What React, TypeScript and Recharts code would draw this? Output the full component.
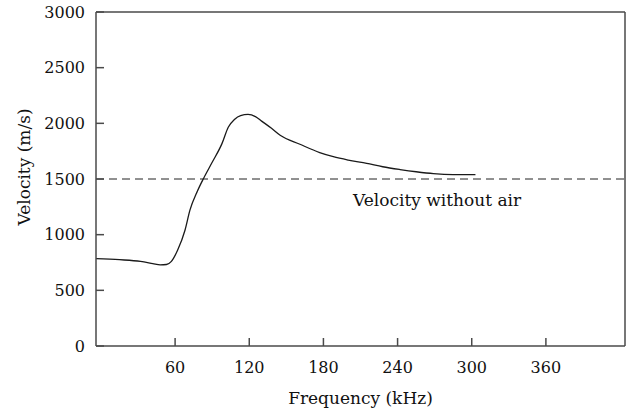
import React from 'react';
import { LineChart, Line, XAxis, YAxis, ReferenceLine, ReferenceDot, Label } from 'recharts';

// curve (kHz, m/s)
const frequency = [-4, 15, 32, 42, 48, 53, 57, 62, 68, 72, 78, 83, 90, 98, 103, 108, 113, 119, 125, 130, 138, 145, 161, 177, 188, 200, 215, 228, 242, 255, 269, 285, 303];
const velocity = [785, 775, 760, 740, 728, 732, 760, 860, 1040, 1220, 1390, 1505, 1650, 1820, 1965, 2035, 2070, 2080, 2060, 2020, 1955, 1893, 1812, 1737, 1700, 1670, 1640, 1610, 1585, 1565, 1548, 1540, 1540];
const xTicks = [60, 120, 180, 240, 300, 360];
const yTicks = [0, 500, 1000, 1500, 2000, 2500, 3000];

const data = frequency.map((f, i) => ({ f, v: velocity[i] }));

const font = 'DejaVu Serif';
const axisColor = '#4a4a4a';
const textStyle = { fontFamily: font };

const YTitle = ({ viewBox }: any) => {
  const x = viewBox.x + 24;
  const y = viewBox.y + viewBox.height / 2 - 12;
  return (
    <text x={x} y={y} transform={`rotate(-90, ${x}, ${y})`} textAnchor="middle" dominantBaseline="central" fill="#111" fontSize={17} fontFamily={font}>
      Velocity (m/s)
    </text>
  );
};

export default function App() {
  return (
    <div style={{ position: 'absolute', left: 0, top: 0, background: '#fff', fontFamily: font }}>
      <LineChart width={631} height={416} data={data} margin={{ top: 12, right: 6, left: 0, bottom: 0 }} style={textStyle}>
        <XAxis
          type="number"
          dataKey="f"
          domain={[-4, 424]}
          ticks={xTicks}
          allowDataOverflow
          height={70}
          tickSize={-8}
          tickMargin={24}
          stroke={axisColor}
          strokeWidth={1.5}
          tick={{ fill: '#111', fontSize: 16, fontFamily: font }}
          label={{ value: 'Frequency (kHz)', position: 'insideBottom', offset: 12, fill: '#111', fontSize: 17, fontFamily: font }}
        />
        <YAxis
          type="number"
          domain={[0, 3000]}
          ticks={yTicks}
          width={96}
          tickSize={-8}
          tickMargin={19}
          stroke={axisColor}
          strokeWidth={1.5}
          tick={{ fill: '#111', fontSize: 16, fontFamily: font }}
        >
          <Label content={YTitle} />
        </YAxis>
        <ReferenceLine y={3000} stroke={axisColor} strokeWidth={1.5} />
        <ReferenceLine x={424} stroke={axisColor} strokeWidth={1.5} />
        <ReferenceLine y={1500} stroke="#222" strokeWidth={1} strokeDasharray="8 5" />
        <ReferenceDot
          x={272}
          y={1310}
          r={0}
          stroke="none"
          label={{ value: 'Velocity without air', position: 'center', fill: '#111', fontSize: 17, fontFamily: font }}
        />
        <Line type="monotone" dataKey="v" stroke="#1a1a1a" strokeWidth={1.3} dot={false} isAnimationActive={false} />
      </LineChart>
    </div>
  );
}
